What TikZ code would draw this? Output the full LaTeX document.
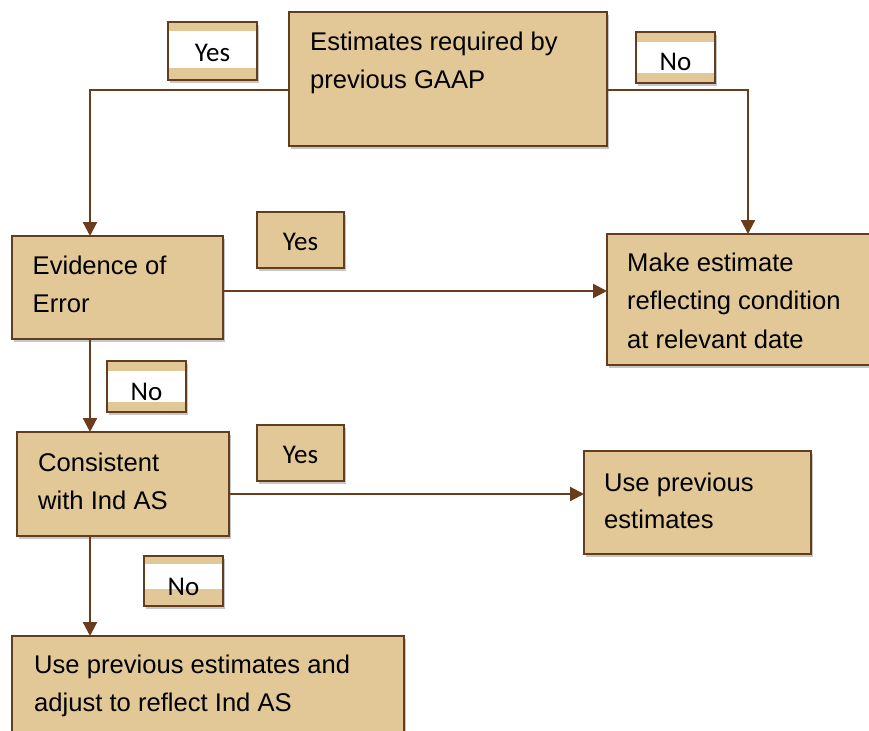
\documentclass[tikz,border=0pt]{standalone}
\usepackage{fontspec}
\setmainfont{Liberation Sans}
\newfontfamily\lblfont{Carlito}
\usetikzlibrary{arrows.meta,shadows,calc}
\definecolor{tan}{RGB}{226,200,151}
\definecolor{brd}{RGB}{100,60,30}
\definecolor{arr}{RGB}{105,60,28}
\newcommand\lbtxt[2]{\smash{\raisebox{-#1pt}{#2}}}
\tikzset{
  box/.style={draw=brd, line width=1.8pt, fill=tan, inner sep=0pt, outer sep=0pt,
    drop shadow={shadow xshift=2pt, shadow yshift=-3pt, fill=black, opacity=0.22}},
  lbl/.style={draw=brd, line width=1.8pt, fill=tan, inner sep=0pt, outer sep=0pt,
    font=\lblfont\fontsize{27}{30}\selectfont,
    drop shadow={shadow xshift=2pt, shadow yshift=-3pt, fill=black, opacity=0.22}},
  band/.style 2 args={path picture={\fill[white] ([yshift=-#1]path picture bounding box.north west) rectangle ([yshift=#2]path picture bounding box.south east);}},
  txt/.style={anchor=base west, inner sep=0pt, font=\fontsize{25.6}{30}\selectfont},
  conn/.style={draw=arr, line width=2.2pt, -{Triangle[length=14pt,width=14pt]}}
}
\begin{document}
\begin{tikzpicture}[x=1pt,y=-1pt]
\useasboundingbox (0,0) rectangle (869,730);
% main boxes
\node[box, minimum width=318pt, minimum height=134pt] (top) at (448,79) {};
\node[box, minimum width=211pt, minimum height=103pt] (ev) at (117.5,287.5) {};
\node[box, minimum width=270pt, minimum height=131pt] (make) at (742,299.5) {};
\node[box, minimum width=212pt, minimum height=104pt] (cons) at (123,484) {};
\node[box, minimum width=227pt, minimum height=103pt] (prev) at (697.5,502.5) {};
\node[box, minimum width=392pt, minimum height=109pt] (final) at (208,690.5) {};
% texts
\node[txt] (t1a) at (310,51) {Estimates required by};
\node[txt] (t1b) at (310,88.5) {previous GAAP};
\node[txt] (t2a) at (32.5,274.5) {Evidence of};
\node[txt] (t2b) at (32.5,312.5) {Error};
\node[txt] (t3a) at (627,271) {Make estimate};
\node[txt] (t3b) at (627,309.5) {reflecting condition};
\node[txt] (t3c) at (627,348) {at relevant date};
\node[txt] (t4a) at (38,471.5) {Consistent};
\node[txt] (t4b) at (38,509.5) {with Ind AS};
\node[txt] (t5a) at (604,491) {Use previous};
\node[txt] (t5b) at (604,528) {estimates};
\node[txt] (t6a) at (34,673.5) {Use previous estimates and};
\node[txt] (t6b) at (34,711.5) {adjust to reflect Ind AS};
% connectors
\draw[conn] ([yshift=-11pt]top.west) -| ([xshift=-27.5pt]ev.north);
\draw[conn] ([yshift=-11pt]top.east) -| ([xshift=6pt]make.north);
\draw[conn] ([yshift=-3.5pt]ev.east) coordinate (e1) -- (e1 -| make.west);
\draw[conn] ([xshift=-27.5pt]ev.south) coordinate (e2) -- (e2 |- cons.north);
\draw[conn] ([yshift=-10pt]cons.east) coordinate (e3) -- (e3 -| prev.west);
\draw[conn] ([xshift=-33pt]cons.south) coordinate (e4) -- (e4 |- final.north);
% labels
\node[lbl, band={9pt}{12pt}, minimum width=89pt, minimum height=58pt] (yes1) at (212.5,51) {\lbtxt{10.7}{Yes}};
\node[lbl, band={10pt}{10pt}, minimum width=79pt, minimum height=51pt] (no1) at (675.5,57.5) {\lbtxt{13}{No}};
\node[lbl, minimum width=87pt, minimum height=56pt] (yes2) at (300.5,240) {\lbtxt{10.7}{Yes}};
\node[lbl, minimum width=87pt, minimum height=56pt] (yes3) at (300.5,453) {\lbtxt{10.7}{Yes}};
\node[lbl, band={10pt}{10pt}, minimum width=79pt, minimum height=51pt] (no2) at (146.5,386.5) {\lbtxt{13.5}{No}};
\node[lbl, band={8pt}{17pt}, minimum width=79pt, minimum height=50pt] (no3) at (183.5,581) {\lbtxt{14}{No}};
\end{tikzpicture}
\end{document}
